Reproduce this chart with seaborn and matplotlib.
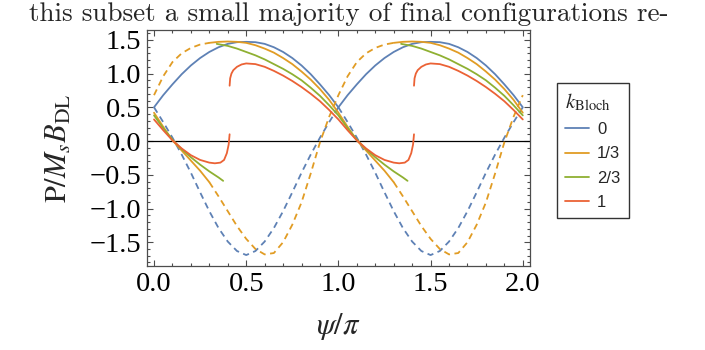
import numpy as np
import pandas as pd
import matplotlib
matplotlib.use("Agg")
import matplotlib.pyplot as plt
import seaborn as sns
from matplotlib.lines import Line2D
from matplotlib.ticker import MultipleLocator

# values, psi in units of pi
# each k_Bloch has one branch of period 2; the second branch is the same one moved by 1
k_labels = ["0", "1/3", "2/3", "1"]
colors = ["#5e81b5", "#e19c24", "#8fb032", "#eb6235"]

# k = 0 : solid for t in [0, 1], dashed for t in [1, 2]
blue_t = np.linspace(0, 2, 41)
blue_p = [0.50, 0.68, 0.84, 0.99, 1.12, 1.23, 1.32, 1.39, 1.44, 1.465,
          1.47, 1.465, 1.44, 1.39, 1.32, 1.23, 1.12, 0.99, 0.84, 0.68,
          0.50, 0.28, 0.05, -0.20, -0.47, -0.76, -1.04, -1.29, -1.49, -1.63,
          -1.69, -1.63, -1.49, -1.29, -1.04, -0.76, -0.47, -0.20, 0.05, 0.28,
          0.50]
blue_solid = (0.0, 1.0)

# k = 1/3 : solid for t in [0.3, 1.3]
orange_t = np.linspace(0.3, 2.3, 41)
orange_p = [1.455, 1.47, 1.475, 1.47, 1.455, 1.42, 1.37, 1.31, 1.23, 1.14,
            1.03, 0.91, 0.77, 0.61, 0.42, 0.21, 0.01, -0.14, -0.29, -0.44,
            -0.61, -0.82, -1.04, -1.26, -1.45, -1.60, -1.68, -1.66, -1.50, -1.24,
            -0.91, -0.48, -0.02, 0.36, 0.68, 0.96, 1.17, 1.30, 1.38, 1.43,
            1.455]
orange_solid = (0.3, 1.3)

# k = 2/3 : only the solid part is drawn
green_t = [0.34, 0.40, 0.45, 0.50, 0.55, 0.60, 0.65, 0.70, 0.75, 0.80,
           0.85, 0.90, 0.95, 1.00, 1.05, 1.10, 1.15, 1.20, 1.25, 1.30,
           1.35, 1.375]
green_p = [1.44, 1.41, 1.37, 1.32, 1.27, 1.21, 1.14, 1.07, 0.99, 0.90,
           0.79, 0.67, 0.53, 0.38, 0.19, 0.02, -0.12, -0.24, -0.35, -0.45,
           -0.54, -0.59]

# k = 1 : only the solid part is drawn
red_t = [0.410, 0.413, 0.42, 0.43, 0.45, 0.475, 0.50, 0.55, 0.60, 0.65,
         0.70, 0.75, 0.80, 0.85, 0.90, 0.95, 1.00, 1.05, 1.10, 1.15,
         1.20, 1.25, 1.30, 1.33, 1.36, 1.38, 1.395, 1.405, 1.41]
red_p = [0.82, 0.93, 1.00, 1.05, 1.10, 1.135, 1.15, 1.14, 1.10, 1.04,
         0.97, 0.89, 0.80, 0.70, 0.59, 0.46, 0.32, 0.16, 0.01, -0.11,
         -0.21, -0.28, -0.32, -0.33, -0.32, -0.28, -0.18, -0.05, 0.10]

x_ticks = [0.0, 0.5, 1.0, 1.5, 2.0]
y_ticks = [-1.5, -1.0, -0.5, 0.0, 0.5, 1.0, 1.5]

branches = [
    ("0", blue_t, blue_p, blue_solid),
    ("1/3", orange_t, orange_p, orange_solid),
    ("2/3", green_t, green_p, None),
    ("1", red_t, red_p, None),
]

rows = []
seg = 0
for k, t, p, solid in branches:
    t = np.asarray(t, dtype=float)
    p = np.asarray(p, dtype=float)
    if solid is None:
        parts = [(np.ones(len(t), bool), "solid")]
    else:
        a, b = solid
        parts = [((t >= a - 1e-9) & (t <= b + 1e-9), "solid"),
                 (t <= a + 1e-9, "dashed"),
                 (t >= b - 1e-9, "dashed")]
    for shift in (-2, -1, 0, 1, 2):
        for mask, style in parts:
            x = t[mask] + shift
            y = p[mask]
            keep = (x > -1e-6) & (x < 2 + 1e-6)
            if keep.sum() < 2:
                continue
            for xi, yi in zip(x[keep], y[keep]):
                rows.append((xi, yi, k, seg, style))
            seg += 1

df = pd.DataFrame(rows, columns=["psi", "P", "k", "seg", "style"])

sns.set_style("ticks")
plt.rcParams["font.family"] = ["Liberation Serif", "DejaVu Serif"]
plt.rcParams["mathtext.fontset"] = "stix"

fig = plt.figure(figsize=(7.05, 3.5), dpi=100)
ax = fig.add_axes([0.208, 0.24, 0.544, 0.674])

ax.axhline(0, color="black", lw=0.9, zorder=1)
sns.lineplot(data=df, x="psi", y="P", hue="k", hue_order=k_labels,
             style="style", style_order=["solid", "dashed"],
             dashes={"solid": "", "dashed": (3.5, 2.5)},
             units="seg", estimator=None, sort=False,
             palette=dict(zip(k_labels, colors)), linewidth=1.3,
             legend=False, ax=ax, zorder=2)

ax.set_xlim(-0.04, 2.04)
ax.set_ylim(-1.852, 1.644)
ax.set_xticks(x_ticks)
ax.set_yticks(y_ticks)
ax.xaxis.set_minor_locator(MultipleLocator(0.1))
ax.yaxis.set_minor_locator(MultipleLocator(0.1))
ax.tick_params(which="both", direction="in", top=True, right=True,
               color="#4d4d4d", width=0.8, labelsize=20.5, labelcolor="black")
ax.tick_params(which="major", length=4.5, pad=4)
ax.tick_params(which="minor", length=2.3)
for s in ax.spines.values():
    s.set_color("#4d4d4d")
    s.set_linewidth(0.9)

ax.set_xlabel(r"$\psi/\pi$", fontsize=22)
ax.set_ylabel(r"$\mathrm{P}/M_s B_{\mathrm{DL}}$", fontsize=22)
ax.xaxis.set_label_coords(0.5, -0.19)
ax.yaxis.set_label_coords(-0.19, 0.5)

handles = [Line2D([], [], color=c, lw=1.3) for c in colors]
leg = fig.legend(handles, k_labels, title=r"$k_{\mathrm{Bloch}}$",
                 loc="upper left", bbox_to_anchor=(557 / 705, 1 - 83 / 350),
                 borderaxespad=0, frameon=True, fancybox=False, handlelength=1.4,
                 handletextpad=0.5, labelspacing=0.55, borderpad=0.5,
                 alignment="left", prop={"family": "Liberation Sans", "size": 12},
                 title_fontsize=15)
leg.get_frame().set_edgecolor("black")
leg.get_frame().set_linewidth(1.0)

# line of running text from the page above the figure
fig.text(0.495, 1 - 21 / 350, "this subset a small majority of final configurations re-",
         ha="center", va="baseline", fontsize=19.6, family="cmr10")

fig.savefig("out.png", dpi=100)
